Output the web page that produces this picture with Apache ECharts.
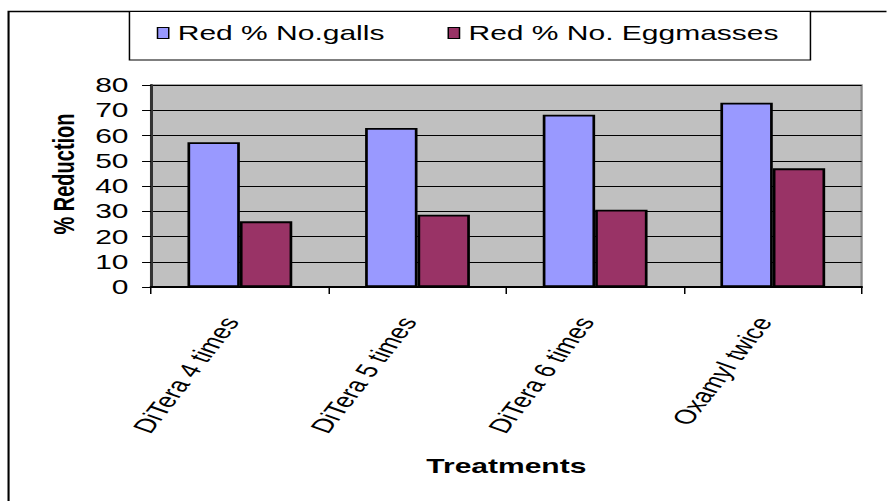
<!DOCTYPE html>
<html>
<head>
<meta charset="utf-8">
<script src="https://cdn.jsdelivr.net/npm/echarts@6/dist/echarts.min.js"></script>
<style>
html,body{margin:0;padding:0;background:#fff;overflow:hidden;}
#chart{width:591.33px;height:501px;transform:scaleX(1.5);transform-origin:0 0;}
</style>
</head>
<body>
<div id="chart"></div>
<script>
var categories = ['DiTera 4 times', 'DiTera 5 times', 'DiTera 6 times', 'Oxamyl twice'];
var gallsValues = [57.3, 63.0, 68.2, 73.0];
var eggValues = [26.0, 28.6, 30.6, 47.0];
var seriesNames = ['Red % No.galls', 'Red % No. Eggmasses'];
var yTicks = {min: 0, max: 80, interval: 10};

var FONT = 'Liberation Sans, Arial, sans-serif';
var chart = echarts.init(document.getElementById('chart'), null, {renderer: 'svg'});
chart.setOption({
  backgroundColor: '#ffffff',
  animation: false,
  textStyle: {fontFamily: FONT, color: '#000'},
  graphic: [
    {type: 'rect', z: 0, shape: {x: 5.7, y: 11.5, width: 620, height: 520},
     style: {fill: 'none', stroke: '#000', lineWidth: 1.4}},
    {type: 'rect', z: 1, shape: {x: 86.3, y: 11.5, width: 454, height: 48.5},
     style: {fill: '#fff', stroke: '#000', lineWidth: 1}}
  ],
  legend: {
    left: 104.5, top: 23, itemGap: 42, itemWidth: 7.5, itemHeight: 11,
    icon: 'rect', z: 5, padding: 0,
    textStyle: {fontSize: 20, fontFamily: FONT, color: '#000', padding: [0, 0, 0, 1]},
    itemStyle: {borderColor: '#000', borderWidth: 1},
    data: seriesNames
  },
  grid: {left: 100.7, right: 16.6, top: 85, bottom: 214, show: true,
         backgroundColor: '#c0c0c0', borderColor: '#8a8a8a', borderWidth: 1.5},
  xAxis: {
    type: 'category', data: categories,
    name: 'Treatments', nameLocation: 'middle', nameGap: 169,
    nameTextStyle: {fontSize: 20, fontWeight: 'bold', fontFamily: FONT, color: '#000'},
    axisLine: {show: true, lineStyle: {color: '#000', width: 2}},
    axisTick: {show: true, length: 7, lineStyle: {color: '#000', width: 1}},
    axisLabel: {rotate: 62, margin: 20, fontSize: 20, fontFamily: FONT, color: '#000', padding: [0, 13, 0, 0]}
  },
  yAxis: {
    type: 'value', min: yTicks.min, max: yTicks.max, interval: yTicks.interval,
    name: '% Reduction', nameLocation: 'middle', nameRotate: 90, nameGap: 43,
    nameTextStyle: {fontSize: 20, fontWeight: 'bold', fontFamily: FONT, color: '#000', padding: [0, 0, 0, 24]},
    axisLine: {show: true, lineStyle: {color: '#333', width: 2}},
    axisTick: {show: true, length: 6, lineStyle: {color: '#000', width: 1}},
    axisLabel: {margin: 15, fontSize: 20, fontFamily: FONT, color: '#000'},
    splitLine: {show: true, lineStyle: {color: '#000', width: 1}}
  },
  series: [
    {name: seriesNames[0], type: 'bar', data: gallsValues, barGap: '0%', barCategoryGap: '41%',
     itemStyle: {color: '#9999ff', borderColor: '#000', borderWidth: 1.8}},
    {name: seriesNames[1], type: 'bar', data: eggValues, barGap: '0%', barCategoryGap: '41%',
     itemStyle: {color: '#993366', borderColor: '#000', borderWidth: 1.8}}
  ]
});
</script>
</body>
</html>
